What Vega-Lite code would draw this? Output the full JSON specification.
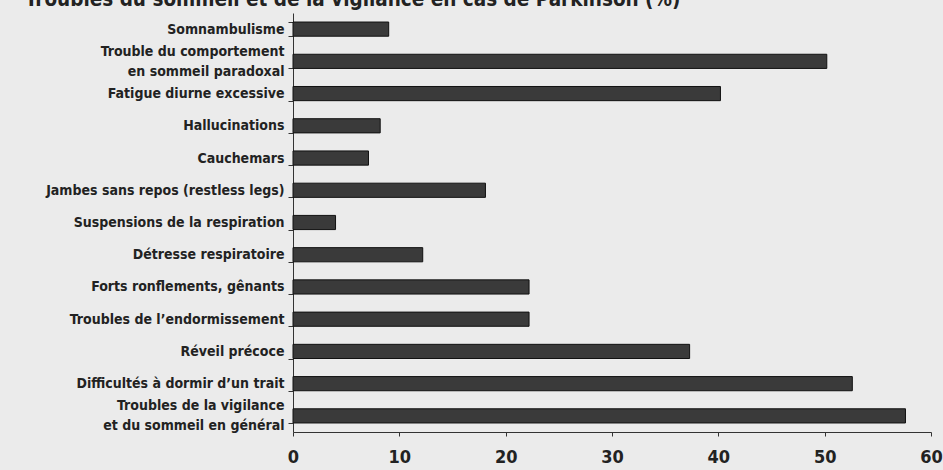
{
  "$schema": "https://vega.github.io/schema/vega-lite/v6.json",
  "width": 638,
  "height": 419,
  "autosize": {"type": "none"},
  "padding": {"left": 293, "top": 13, "right": 12, "bottom": 38},
  "background": "#ebebeb",
  "title": {
    "text": "Troubles du sommeil et de la vigilance en cas de Parkinson (%)",
    "anchor": "start",
    "frame": "group",
    "dx": -268,
    "offset": -4,
    "font": "DejaVu Sans Condensed",
    "fontSize": 20.5,
    "fontWeight": "bold",
    "color": "#222222"
  },
  "data": {
    "values": [
      {"trouble": "Somnambulisme", "pct": 9},
      {"trouble": "Trouble du comportement|en sommeil paradoxal", "pct": 50.2},
      {"trouble": "Fatigue diurne excessive", "pct": 40.2},
      {"trouble": "Hallucinations", "pct": 8.2},
      {"trouble": "Cauchemars", "pct": 7.1},
      {"trouble": "Jambes sans repos (restless legs)", "pct": 18.1},
      {"trouble": "Suspensions de la respiration", "pct": 4},
      {"trouble": "Détresse respiratoire", "pct": 12.2},
      {"trouble": "Forts ronflements, gênants", "pct": 22.2},
      {"trouble": "Troubles de l’endormissement", "pct": 22.2},
      {"trouble": "Réveil précoce", "pct": 37.3},
      {"trouble": "Difficultés à dormir d’un trait", "pct": 52.6},
      {"trouble": "Troubles de la vigilance|et du sommeil en général", "pct": 57.6}
    ]
  },
  "mark": {"type": "bar", "color": "#3a3a3a", "stroke": "#111111", "strokeWidth": 1},
  "encoding": {
    "y": {
      "field": "trouble",
      "type": "nominal",
      "sort": null,
      "scale": {"paddingInner": 0.56, "paddingOuter": 0.28},
      "axis": {
        "title": null,
        "labelExpr": "split(datum.label, '|')",
        "labelFont": "DejaVu Sans Condensed",
        "labelFontSize": 14,
        "labelFontWeight": "bold",
        "labelColor": "#222222",
        "labelLineHeight": 20,
        "labelOffset": {"condition": {"test": "indexof(datum.label, '|') >= 0", "value": -10}, "value": 0},
        "labelPadding": 4,
        "tickBand": "extent",
        "tickSize": 5,
        "tickColor": "#333333",
        "domainColor": "#333333",
        "labelLimit": 300
      }
    },
    "x": {
      "field": "pct",
      "type": "quantitative",
      "scale": {"domain": [0, 60], "nice": false},
      "axis": {
        "title": null,
        "values": [0, 10, 20, 30, 40, 50, 60],
        "grid": false,
        "labelFont": "DejaVu Sans Condensed",
        "labelFontSize": 18,
        "labelFontWeight": "bold",
        "labelColor": "#222222",
        "labelPadding": 12,
        "tickSize": 4,
        "tickColor": "#333333",
        "domainColor": "#333333",
        "labelFlush": false
      }
    }
  },
  "config": {"view": {"stroke": null}}
}
